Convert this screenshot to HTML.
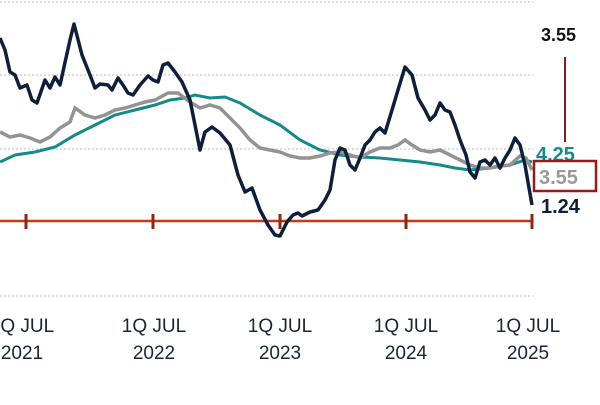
<!DOCTYPE html>
<html><head><style>
body{margin:0;width:600px;height:400px;overflow:hidden;background:#fff;font-family:"Liberation Sans",Arial,sans-serif}
</style></head><body>
<svg width="600" height="400" viewBox="0 0 600 400">
<g stroke="#d4d4d4" stroke-width="1.5" stroke-dasharray="2,2">
<line x1="0" y1="2" x2="533" y2="2"/><line x1="0" y1="75" x2="533" y2="75"/>
<line x1="0" y1="149" x2="533" y2="149"/><line x1="0" y1="296" x2="533" y2="296"/>
</g>
<line x1="0" y1="221" x2="532" y2="221" stroke="#c0391b" stroke-width="2.5"/>
<g stroke="#8a2a10" stroke-width="3">
<line x1="26" y1="214" x2="26" y2="229"/><line x1="153" y1="214" x2="153" y2="229"/>
<line x1="280" y1="214" x2="280" y2="229"/><line x1="406" y1="214" x2="406" y2="229"/>
<line x1="532" y1="214" x2="532" y2="229"/>
</g>
<polyline fill="none" stroke="#158a88" stroke-width="3" points="0,162 15,155 35,152 55,147 75,135 95,125 115,115 135,110 155,105 170,100 185,98 195,95 210,98 225,97 240,103 260,115 280,125 300,140 320,150 340,155 360,157 380,158 400,160 420,162 440,165 455,168 470,170 490,168 510,165 525,160 532,162"/>
<polyline fill="none" stroke="#939393" stroke-width="3.5" points="0,132 10,137 20,135 30,138 40,142 50,137 60,128 70,122 75,108 85,115 95,118 105,115 115,110 125,108 135,105 145,102 155,100 168,93 178,93 190,102 200,108 210,105 220,108 230,118 240,128 250,140 260,148 270,150 280,152 290,156 300,158 310,158 320,156 330,153 340,152 350,155 360,158 370,152 380,148 390,148 398,145 405,140 412,145 420,150 430,152 440,150 450,155 460,160 470,165 480,168 490,168 500,166 510,165 520,156 526,158 532,170"/>
<polyline fill="none" stroke="#0f1f3a" stroke-width="3.5" stroke-linejoin="round" points="0,38 5,50 10,72 15,75 20,88 27,85 32,100 37,103 45,80 50,88 55,77 60,85 70,40 74,24 82,55 90,75 95,88 100,84 108,85 112,90 118,78 123,85 128,93 133,95 140,85 148,76 153,80 158,82 163,65 168,63 175,72 182,82 190,100 200,150 205,132 212,127 220,133 230,145 238,175 245,192 252,188 260,210 268,225 275,235 280,236 287,222 293,215 298,213 302,216 310,212 318,210 325,200 330,190 335,160 340,148 345,150 350,165 355,170 360,158 365,145 370,140 375,132 380,128 385,133 392,110 398,90 405,67 412,75 418,98 425,110 430,120 435,115 440,103 445,110 450,112 455,125 460,140 466,155 470,172 475,178 480,162 485,160 490,165 495,158 500,168 505,158 510,150 515,138 520,145 525,165 532,205"/>
<text x="541" y="41" font-size="18" font-weight="bold" fill="#111">3.55</text>
<line x1="565" y1="57" x2="565" y2="142" stroke="#8a1a1a" stroke-width="2"/>
<text x="536" y="161" font-size="20" font-weight="bold" fill="#158a88">4.25</text>
<rect x="534" y="161" width="62" height="30" fill="none" stroke="#9a1a1a" stroke-width="2.5"/>
<text x="539" y="184" font-size="20" font-weight="bold" fill="#999">3.55</text>
<text x="541" y="213" font-size="20" font-weight="bold" fill="#0f1f3a">1.24</text>
<g font-size="19" fill="#1a2438" text-anchor="middle">
<text x="22" y="332">1Q JUL</text><text x="22" y="359">2021</text>
<text x="154" y="332">1Q JUL</text><text x="154" y="359">2022</text>
<text x="280" y="332">1Q JUL</text><text x="280" y="359">2023</text>
<text x="406" y="332">1Q JUL</text><text x="406" y="359">2024</text>
<text x="528" y="332">1Q JUL</text><text x="528" y="359">2025</text>
</g>
</svg>
</body></html>
